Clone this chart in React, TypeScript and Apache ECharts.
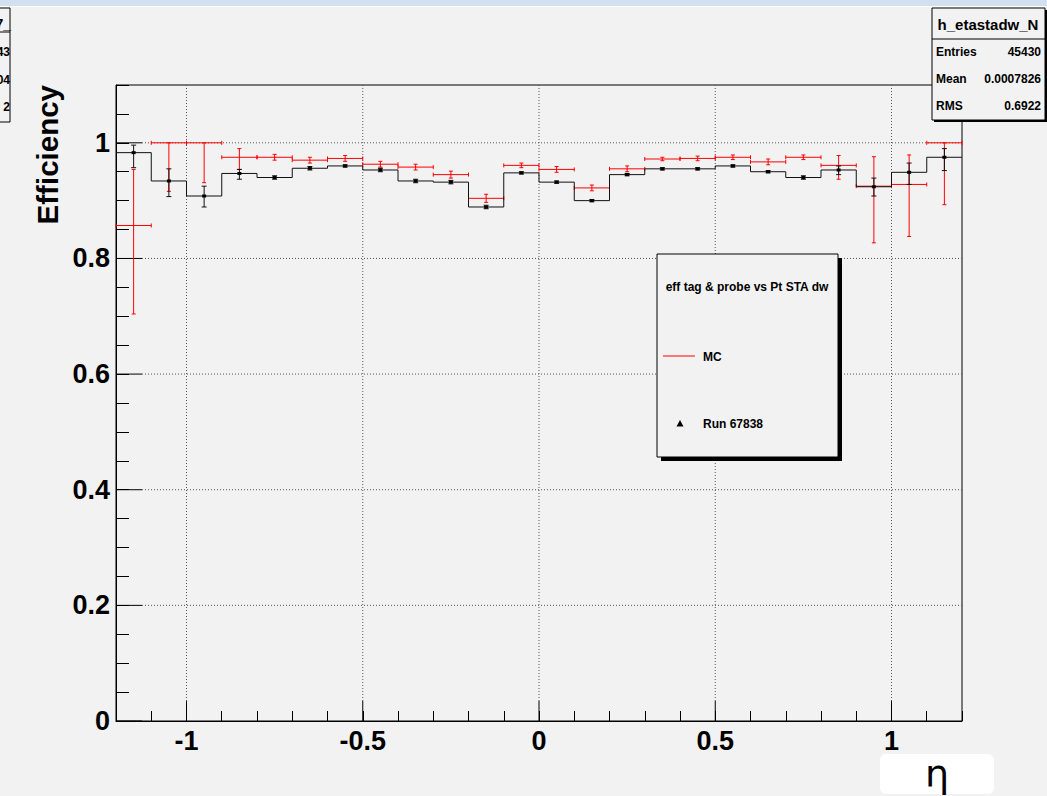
import React, { useEffect, useRef } from "react";
import * as echarts from "echarts";

// Bin centres in eta (bin width 0.1)
const etaCenters = [-1.15, -1.05, -0.95, -0.85, -0.75, -0.65, -0.55, -0.45, -0.35, -0.25, -0.15, -0.05,
  0.05, 0.15, 0.25, 0.35, 0.45, 0.55, 0.65, 0.75, 0.85, 0.95, 1.05, 1.15];
const binWidth = 0.1;

// Run 67838 (data, black)
const dataEff = [0.983, 0.934, 0.908, 0.947, 0.940, 0.956, 0.960, 0.953, 0.934, 0.932, 0.889, 0.948,
  0.932, 0.900, 0.945, 0.955, 0.955, 0.960, 0.950, 0.940, 0.953, 0.924, 0.949, 0.975];
const dataErrLow = [0.026, 0.027, 0.019, 0.010, 0.003, 0.003, 0.002, 0.003, 0.003, 0.003, 0.003, 0.002,
  0.002, 0.002, 0.002, 0.002, 0.002, 0.002, 0.002, 0.003, 0.008, 0.016, 0.021, 0.023];
const dataErrHigh = [0.013, 0.021, 0.017, 0.007, 0.003, 0.003, 0.002, 0.003, 0.003, 0.003, 0.003, 0.002,
  0.002, 0.002, 0.002, 0.002, 0.002, 0.002, 0.002, 0.003, 0.007, 0.015, 0.016, 0.015];

// MC (red)
const mcEff = [0.857, 1.000, 1.000, 0.975, 0.975, 0.970, 0.973, 0.963, 0.958, 0.945, 0.904, 0.961,
  0.954, 0.922, 0.955, 0.972, 0.973, 0.975, 0.967, 0.975, 0.961, 0.925, 0.928, 1.000];
const mcErrLow = [0.153, 0.084, 0.069, 0.021, 0.005, 0.005, 0.005, 0.005, 0.005, 0.006, 0.007, 0.004,
  0.005, 0.005, 0.005, 0.003, 0.004, 0.004, 0.005, 0.004, 0.024, 0.098, 0.090, 0.107];
const mcErrHigh = [0.097, 0, 0, 0.015, 0.005, 0.005, 0.005, 0.005, 0.005, 0.006, 0.007, 0.004,
  0.005, 0.005, 0.005, 0.003, 0.004, 0.004, 0.005, 0.004, 0.017, 0.051, 0.051, 0];

// Axis ticks
const xTickValues = [-1, -0.5, 0, 0.5, 1];
const xTickLabels = ["-1", "-0.5", "0", "0.5", "1"];
const yTickValues = [0, 0.2, 0.4, 0.6, 0.8, 1];
const yTickLabels = ["0", "0.2", "0.4", "0.6", "0.8", "1"];

// Stat box
const statTitle = "h_etastadw_N";
const statNames = ["Entries", "Mean", "RMS"];
const statValues = ["45430", "0.0007826", "0.6922"];

// Partially visible neighbouring stat box (left edge)
const leftBoxTexts = ["43", "04", "2"];

const X_MIN = -1.2, X_MAX = 1.2, Y_MIN = 0, Y_MAX = 1.1;
const FONT = '"Liberation Sans", Arial, Helvetica, sans-serif';

function findLabel(v: number, values: number[], labels: string[]) {
  for (let i = 0; i < values.length; i++) {
    if (Math.abs(values[i] - v) < 1e-6) return labels[i];
  }
  return "";
}

export default function App() {
  const ref = useRef<HTMLDivElement>(null);
  useEffect(() => {
    if (!ref.current) return;
    const chart = echarts.init(ref.current, null, { renderer: "svg" });
    const hw = binWidth / 2;

    const blackData = etaCenters.map((x, i) => [x, dataEff[i], dataEff[i] - dataErrLow[i], dataEff[i] + dataErrHigh[i], i > 0 ? dataEff[i - 1] : dataEff[i]]);
    const redData = etaCenters.map((x, i) => [x, mcEff[i], mcEff[i] - mcErrLow[i], mcEff[i] + mcErrHigh[i]]);

    const ln = (x1: number, y1: number, x2: number, y2: number, stroke: string, lineWidth = 1, lineDash?: number[]) => ({
      type: "line",
      shape: { x1, y1, x2, y2 },
      style: { stroke, lineWidth, lineDash: lineDash || null },
      silent: true,
    });

    const text = (t: string, x: number, y: number, size: number, align: string, vAlign: string, extra: any = {}) => ({
      type: "text",
      x,
      y,
      z: 100,
      silent: true,
      style: {
        text: t,
        font: `bold ${size}px ${FONT}`,
        fill: "#000",
        textAlign: align,
        textVerticalAlign: vAlign,
        align,
        verticalAlign: vAlign,
      },
      ...extra,
    });

    const option: any = {
      animation: false,
      backgroundColor: "#f2f2f2",
      grid: {
        left: 116,
        right: 85,
        top: 85,
        bottom: 75,
        show: true,
        borderColor: "#000",
        borderWidth: 1,
        backgroundColor: "transparent",
      },
      xAxis: {
        type: "value",
        min: X_MIN,
        max: X_MAX,
        interval: 0.1,
        axisLine: { show: true, onZero: false, lineStyle: { color: "#000", width: 1 } },
        axisTick: { show: true, inside: true, length: 10, lineStyle: { color: "#000", width: 1 } },
        splitLine: { show: false },
        axisLabel: {
          show: true,
          margin: 6,
          color: "#000",
          fontFamily: FONT,
          fontWeight: "bold",
          fontSize: 27,
          showMinLabel: true,
          showMaxLabel: true,
          formatter: (v: number) => findLabel(v, xTickValues, xTickLabels),
        },
      },
      yAxis: {
        type: "value",
        min: Y_MIN,
        max: Y_MAX,
        interval: 0.05,
        axisLine: { show: true, onZero: false, lineStyle: { color: "#000", width: 1 } },
        axisTick: { show: true, inside: true, length: 13, lineStyle: { color: "#000", width: 1 } },
        splitLine: { show: false },
        axisLabel: {
          show: true,
          margin: 6,
          color: "#000",
          fontFamily: FONT,
          fontWeight: "bold",
          fontSize: 27,
          formatter: (v: number) => findLabel(v, yTickValues, yTickLabels),
        },
      },
      series: [
        {
          name: "xGrid",
          type: "custom",
          silent: true,
          clip: false,
          z: 1,
          data: xTickValues.map((v) => [v, Y_MIN]),
          encode: { x: 0, y: 1 },
          renderItem: (params: any, api: any) => {
            const v = api.value(0);
            const b = api.coord([v, Y_MIN]);
            const t = api.coord([v, Y_MAX]);
            return {
              type: "group",
              children: [
                ln(b[0], b[1] - 20, b[0], t[1], "#555", 1, [1, 2]),
                ln(b[0], b[1], b[0], b[1] - 20, "#000", 1),
              ],
            };
          },
        },
        {
          name: "yGrid",
          type: "custom",
          silent: true,
          clip: false,
          z: 1,
          data: yTickValues.map((v) => [X_MIN, v]),
          encode: { x: 0, y: 1 },
          renderItem: (params: any, api: any) => {
            const v = api.value(1);
            const l = api.coord([X_MIN, v]);
            const r = api.coord([X_MAX, v]);
            const ch: any[] = [ln(l[0], l[1], l[0] + 26, l[1], "#000", 1)];
            if (v > 0.01) ch.unshift(ln(l[0] + 26, l[1], r[0], r[1], "#555", 1, [1, 2]));
            return { type: "group", children: ch };
          },
        },
        {
          name: "MC",
          type: "custom",
          silent: true,
          z: 3,
          data: redData,
          encode: { x: 0, y: 1 },
          renderItem: (params: any, api: any) => {
            const x = api.value(0), y = api.value(1), lo = api.value(2), hi = api.value(3);
            const pl = api.coord([x - hw, y]);
            const pr = api.coord([x + hw, y]);
            const pc = api.coord([x, y]);
            const plo = api.coord([x, lo]);
            const phi = api.coord([x, hi]);
            const c = "#ff0000";
            return {
              type: "group",
              children: [
                ln(pl[0], pl[1], pr[0], pr[1], c),
                ln(pl[0], pl[1] - 2, pl[0], pl[1] + 2, c),
                ln(pr[0], pr[1] - 2, pr[0], pr[1] + 2, c),
                ln(pc[0], plo[1], pc[0], phi[1], c),
                ln(pc[0] - 2, plo[1], pc[0] + 2, plo[1], c),
                ln(pc[0] - 2, phi[1], pc[0] + 2, phi[1], c),
              ],
            };
          },
        },
        {
          name: "Run 67838",
          type: "custom",
          silent: true,
          z: 4,
          data: blackData,
          encode: { x: 0, y: 1 },
          renderItem: (params: any, api: any) => {
            const x = api.value(0), y = api.value(1), lo = api.value(2), hi = api.value(3), prev = api.value(4);
            const pl = api.coord([x - hw, y]);
            const pr = api.coord([x + hw, y]);
            const pp = api.coord([x - hw, prev]);
            const pc = api.coord([x, y]);
            const plo = api.coord([x, lo]);
            const phi = api.coord([x, hi]);
            const c = "#111";
            return {
              type: "group",
              children: [
                ln(pl[0], pl[1], pr[0], pr[1], c),
                ln(pp[0], pp[1], pl[0], pl[1], c),
                ln(pc[0], plo[1], pc[0], phi[1], c),
                ln(pc[0] - 2.5, plo[1], pc[0] + 2.5, plo[1], c),
                ln(pc[0] - 2.5, phi[1], pc[0] + 2.5, phi[1], c),
                { type: "rect", shape: { x: pc[0] - 2, y: pc[1] - 1.5, width: 4, height: 3 }, style: { fill: "#000" } },
              ],
            };
          },
        },
      ],
      graphic: [
        // top window strip
        { type: "rect", z: 100, silent: true, shape: { x: 0, y: 0, width: 1047, height: 6 }, style: { fill: "#d3e0f1" } },
        { type: "rect", z: 100, silent: true, shape: { x: 0, y: 6, width: 1047, height: 1 }, style: { fill: "#ffffff" } },
        // partial stat box at left edge
        { type: "rect", z: 100, silent: true, shape: { x: -60, y: 8, width: 70, height: 114 }, style: { fill: "#f2f2f2", stroke: "#000", lineWidth: 1 } },
        { type: "line", z: 100, silent: true, shape: { x1: 0, y1: 32, x2: 10, y2: 32 }, style: { stroke: "#000", lineWidth: 1 } },
        text("7_", 11, 24, 14, "right", "middle"),
        ...leftBoxTexts.map((t, i) => text(t, 10, [52, 80, 107][i], 12, "right", "middle")),
        // stat box
        { type: "rect", z: 100, silent: true, shape: { x: 934, y: 10, width: 113, height: 112 }, style: { fill: "#000" } },
        { type: "rect", z: 100, silent: true, shape: { x: 932, y: 8, width: 113, height: 112 }, style: { fill: "#f2f2f2", stroke: "#000", lineWidth: 1 } },
        { type: "line", z: 100, silent: true, shape: { x1: 932, y1: 39, x2: 1045, y2: 39 }, style: { stroke: "#000", lineWidth: 1 } },
        text(statTitle, 988, 24, 15, "center", "middle"),
        ...statNames.map((n, i) => text(n, 936, [52, 79, 106][i], 12, "left", "middle")),
        ...statValues.map((v, i) => text(v, 1041, [52, 79, 106][i], 12, "right", "middle")),
        // legend box
        { type: "rect", z: 100, silent: true, shape: { x: 661, y: 258, width: 181, height: 203 }, style: { fill: "#000" } },
        { type: "rect", z: 100, silent: true, shape: { x: 657, y: 254, width: 181, height: 203 }, style: { fill: "#f2f2f2", stroke: "#000", lineWidth: 1 } },
        text("eff tag & probe vs Pt STA dw", 747, 287, 12, "center", "middle"),
        { type: "line", z: 100, silent: true, shape: { x1: 663, y1: 356, x2: 695, y2: 356 }, style: { stroke: "#ff0000", lineWidth: 1 } },
        text("MC", 703, 357, 12, "left", "middle"),
        { type: "polygon", z: 100, silent: true, shape: { points: [[680, 420], [683.5, 426.5], [676.5, 426.5]] }, style: { fill: "#000" } },
        text("Run 67838", 703, 424, 12, "left", "middle"),
        // y axis title
        text("Efficiency", 47, 85, 29.5, "right", "middle", { rotation: Math.PI / 2 }),
        // x axis title box
        { type: "rect", z: 100, silent: true, shape: { x: 880, y: 754, width: 114, height: 40, r: 6 }, style: { fill: "#ffffff" } },
        {
          type: "text",
          x: 937,
          y: 774,
          z: 101,
          silent: true,
          style: {
            text: "η",
            font: `38px "DejaVu Sans", sans-serif`,
            fill: "#000",
            textAlign: "center",
            textVerticalAlign: "middle",
            align: "center",
            verticalAlign: "middle",
          },
        },
      ],
    };
    chart.setOption(option);
    return () => chart.dispose();
  }, []);
  return (
    <div
      ref={ref}
      style={{ position: "absolute", left: 0, top: 0, width: 1047, height: 796, background: "#f2f2f2" }}
    />
  );
}
